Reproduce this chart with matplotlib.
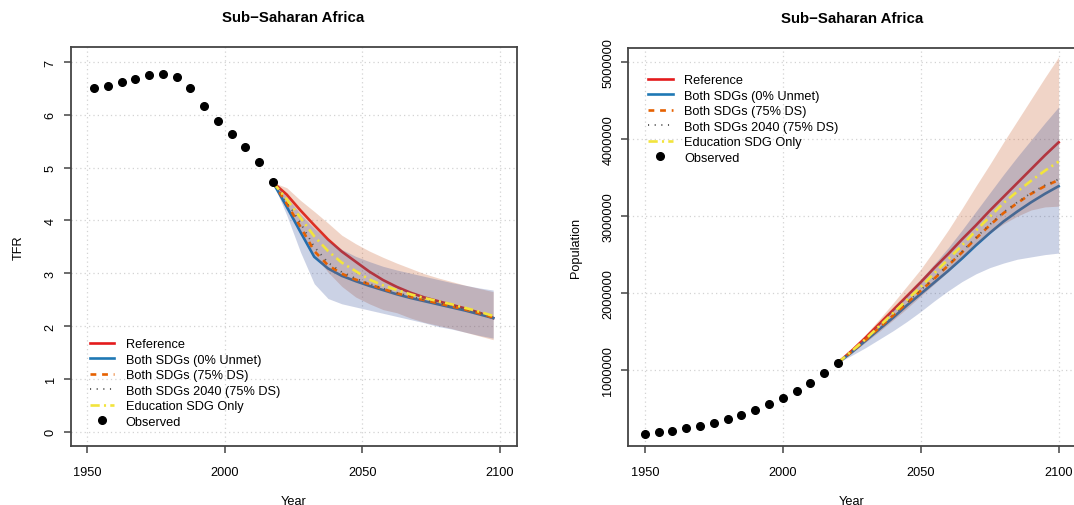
import matplotlib
matplotlib.use("Agg")
import matplotlib.pyplot as plt
import numpy as np

plt.rcParams['font.family'] = ['Liberation Sans', 'DejaVu Sans']

# ---- TFR panel data ----
obs_years_tfr = [1952.5, 1957.5, 1962.5, 1967.5, 1972.5, 1977.5, 1982.5,
                 1987.5, 1992.5, 1997.5, 2002.5, 2007.5, 2012.5, 2017.5]
obs_tfr = [6.50, 6.55, 6.63, 6.68, 6.75, 6.77, 6.72,
           6.51, 6.16, 5.88, 5.64, 5.40, 5.10, 4.72]

proj_years_tfr = [2017.5, 2022.5, 2027.5, 2032.5, 2037.5, 2042.5, 2047.5, 2052.5, 2057.5,
                  2062.5, 2067.5, 2072.5, 2077.5, 2082.5, 2087.5, 2092.5, 2097.5]
tfr_ref = [4.72, 4.49, 4.19, 3.91, 3.64, 3.41, 3.22, 3.03, 2.87,
           2.74, 2.63, 2.54, 2.47, 2.40, 2.33, 2.25, 2.15]
tfr_both0 = [4.72, 4.26, 3.78, 3.31, 3.09, 2.95, 2.85, 2.76, 2.68,
             2.60, 2.53, 2.47, 2.41, 2.35, 2.29, 2.22, 2.15]
tfr_both75 = [4.72, 4.32, 3.88, 3.42, 3.15, 2.99, 2.88, 2.79, 2.70,
              2.62, 2.55, 2.49, 2.43, 2.37, 2.31, 2.24, 2.16]
tfr_both2040 = [4.72, 4.36, 3.95, 3.50, 3.20, 3.02, 2.90, 2.80, 2.71,
                2.63, 2.56, 2.50, 2.44, 2.38, 2.32, 2.25, 2.17]
tfr_edu = [4.72, 4.40, 4.05, 3.70, 3.42, 3.20, 3.04, 2.88, 2.77,
           2.68, 2.60, 2.53, 2.47, 2.41, 2.34, 2.27, 2.19]
tfr_ref_lo = [4.72, 4.30, 3.80, 3.35, 3.02, 2.75, 2.55, 2.42, 2.31,
              2.25, 2.15, 2.07, 2.01, 1.95, 1.88, 1.81, 1.74]
tfr_ref_hi = [4.72, 4.62, 4.38, 4.17, 3.95, 3.72, 3.56, 3.42, 3.30,
              3.19, 3.09, 2.99, 2.91, 2.84, 2.77, 2.71, 2.65]
tfr_sdg_lo = [4.72, 4.10, 3.40, 2.80, 2.52, 2.42, 2.36, 2.30, 2.24,
              2.18, 2.12, 2.06, 1.99, 1.94, 1.88, 1.82, 1.77]
tfr_sdg_hi = [4.72, 4.45, 4.12, 3.85, 3.62, 3.45, 3.32, 3.22, 3.13,
              3.06, 3.00, 2.94, 2.88, 2.82, 2.77, 2.72, 2.68]

# ---- Population panel data (thousands) ----
obs_years_pop = [1950, 1955, 1960, 1965, 1970, 1975, 1980, 1985,
                 1990, 1995, 2000, 2005, 2010, 2015, 2020]
obs_pop = [172000, 191000, 213000, 242000, 274000, 312000, 362000, 416000,
           480000, 554000, 633000, 724000, 833000, 955000, 1094000]

proj_years_pop = [2020, 2025, 2030, 2035, 2040, 2045, 2050, 2055, 2060,
                  2065, 2070, 2075, 2080, 2085, 2090, 2095, 2100]
pop_ref = [1094000, 1250000, 1420000, 1600000, 1780000, 1960000, 2140000, 2330000, 2510000,
           2700000, 2880000, 3070000, 3250000, 3430000, 3610000, 3790000, 3960000]
pop_both0 = [1094000, 1230000, 1380000, 1530000, 1680000, 1840000, 1990000, 2140000, 2290000,
             2450000, 2620000, 2780000, 2930000, 3060000, 3180000, 3290000, 3390000]
pop_both75 = [1094000, 1240000, 1390000, 1550000, 1710000, 1870000, 2030000, 2190000, 2360000,
              2530000, 2710000, 2880000, 3040000, 3170000, 3290000, 3390000, 3470000]
pop_both2040 = [1094000, 1242000, 1395000, 1557000, 1720000, 1880000, 2040000, 2200000, 2370000,
                2540000, 2720000, 2890000, 3050000, 3180000, 3300000, 3400000, 3480000]
pop_edu = [1094000, 1245000, 1400000, 1570000, 1740000, 1910000, 2080000, 2260000, 2440000,
           2620000, 2810000, 2990000, 3170000, 3320000, 3460000, 3590000, 3710000]
pop_ref_lo = [1094000, 1220000, 1360000, 1500000, 1650000, 1800000, 1960000, 2120000, 2280000,
              2460000, 2630000, 2780000, 2900000, 3000000, 3080000, 3120000, 3130000]
pop_ref_hi = [1094000, 1270000, 1460000, 1660000, 1870000, 2090000, 2310000, 2560000, 2820000,
              3100000, 3390000, 3670000, 3960000, 4240000, 4520000, 4800000, 5070000]
pop_sdg_lo = [1094000, 1190000, 1290000, 1400000, 1510000, 1630000, 1760000, 1900000, 2030000,
              2150000, 2250000, 2330000, 2390000, 2440000, 2470000, 2500000, 2520000]
pop_sdg_hi = [1094000, 1250000, 1430000, 1610000, 1800000, 1990000, 2180000, 2380000, 2590000,
              2820000, 3060000, 3300000, 3540000, 3770000, 3990000, 4210000, 4420000]

legend_labels = ['Reference', 'Both SDGs (0% Unmet)', 'Both SDGs (75% DS)',
                 'Both SDGs 2040 (75% DS)', 'Education SDG Only', 'Observed']

c_ref = '#E41A1C'
c_both0 = '#1F78B4'
c_both75 = '#E66101'
c_both2040 = '#555555'
c_edu = '#F2E43C'
band_ref = (0.80, 0.40, 0.22, 0.28)
band_sdg = (0.20, 0.30, 0.60, 0.25)
lw = 1.9

fig = plt.figure(figsize=(10.74, 5.06), dpi=100)
ax1 = fig.add_axes([70.6 / 1074, 1 - 447.3 / 506, 446 / 1074, 399 / 506])
ax2 = fig.add_axes([628.2 / 1074, 1 - 447.3 / 506, 447 / 1074, 398.3 / 506])


def draw_panel(ax, oy, ov, py, ref, b0, b75, b2040, edu, rlo, rhi, slo, shi):
    # reference and 0% unmet lines sit under the bands, the others on top
    ax.plot(py, ref, color=c_ref, lw=lw, zorder=3)
    ax.plot(py, b0, color=c_both0, lw=lw, zorder=3)
    ax.fill_between(py, rlo, rhi, color=band_ref, lw=0, zorder=4)
    ax.fill_between(py, slo, shi, color=band_sdg, lw=0, zorder=4)
    ax.plot(py, b75, color=c_both75, lw=lw, dashes=(2.2, 2.2), zorder=5)
    ax.plot(py, b2040, color=c_both2040, lw=lw * 0.7, dashes=(0.6, 3.0), zorder=5)
    ax.plot(py, edu, color=c_edu, lw=lw, dashes=(3.5, 1.6, 0.8, 1.6), zorder=5)
    ax.plot(oy, ov, 'o', color='black', ms=5.5, zorder=6)
    ax.grid(True, color='#d3d3d3', linestyle=(0, (1, 2.5)), lw=0.9)
    ax.set_axisbelow(True)
    for s in ax.spines.values():
        s.set_linewidth(1.3)
        s.set_color('#444444')
    ax.tick_params(axis='both', length=5, width=1.1, color='#444444', labelsize=9.2)
    ax.tick_params(axis='x', pad=9)
    ax.tick_params(axis='y', pad=5)
    ax.set_xlim(1944, 2106)
    ax.set_xticks([1950, 2000, 2050, 2100])
    ax.set_xlabel('Year', fontsize=9.2, labelpad=12.5)
    ax.set_title('Sub\u2212Saharan Africa', fontsize=10.8, fontweight='bold', pad=19)


draw_panel(ax1, obs_years_tfr, obs_tfr, proj_years_tfr, tfr_ref, tfr_both0, tfr_both75,
           tfr_both2040, tfr_edu, tfr_ref_lo, tfr_ref_hi, tfr_sdg_lo, tfr_sdg_hi)
ax1.set_ylim(-0.28, 7.28)
ax1.set_yticks(range(0, 8))
for lab in ax1.get_yticklabels():
    lab.set_rotation(90)
    lab.set_va('center')
ax1.set_ylabel('TFR', fontsize=9.2, labelpad=14.5)

draw_panel(ax2, obs_years_pop, obs_pop, proj_years_pop, pop_ref, pop_both0, pop_both75,
           pop_both2040, pop_edu, pop_ref_lo, pop_ref_hi, pop_sdg_lo, pop_sdg_hi)
ax2.set_ylim(8000, 5186000)
ax2.set_yticks([1000000, 2000000, 3000000, 4000000, 5000000])
ax2.set_yticklabels(['1000000', '2000000', '3000000', '4000000', '5000000'],
                    rotation=90, va='center')
ax2.set_ylabel('Population', fontsize=9.2, labelpad=14.5)


def legend_handles():
    return [
        plt.Line2D([], [], color=c_ref, lw=lw),
        plt.Line2D([], [], color=c_both0, lw=lw),
        plt.Line2D([], [], color=c_both75, lw=lw, dashes=(2.2, 2.2)),
        plt.Line2D([], [], color=c_both2040, lw=lw * 0.7, dashes=(0.6, 3.0)),
        plt.Line2D([], [], color=c_edu, lw=lw, dashes=(3.5, 1.6, 0.8, 1.6)),
        plt.Line2D([], [], color='black', marker='o', ls='none', ms=5.5),
    ]


leg_kw = dict(frameon=False, fontsize=9.2, handlelength=1.9, handletextpad=0.9,
              labelspacing=0.27, borderpad=0, borderaxespad=0, loc='upper left')
fig.legend(legend_handles(), legend_labels, bbox_to_anchor=(90 / 1074, 1 - 339.5 / 506),
           **leg_kw)
fig.legend(legend_handles(), legend_labels, bbox_to_anchor=(648.3 / 1074, 1 - 75.5 / 506),
           **leg_kw)

fig.savefig('out.png', dpi=100)
